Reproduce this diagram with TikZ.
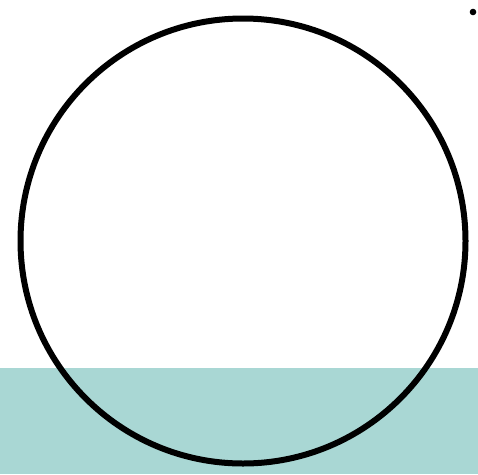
\documentclass[tikz,border=0pt]{standalone}
\definecolor{teal1}{HTML}{A9D7D4}
\tikzset{ring/.style={draw=black,line width=6pt}}
\begin{document}
\begin{tikzpicture}[x=1pt,y=-1pt]
\useasboundingbox (0,0) rectangle (478,474);
\fill[white] (0,0) rectangle (478,474);
\fill[teal1] (0,368) rectangle (478,474);
\node[ring,circle,minimum size=445pt,inner sep=0pt] (c) at (243,241) {};
\fill[black] (473,12) circle (3.3pt);
\end{tikzpicture}
\end{document}
